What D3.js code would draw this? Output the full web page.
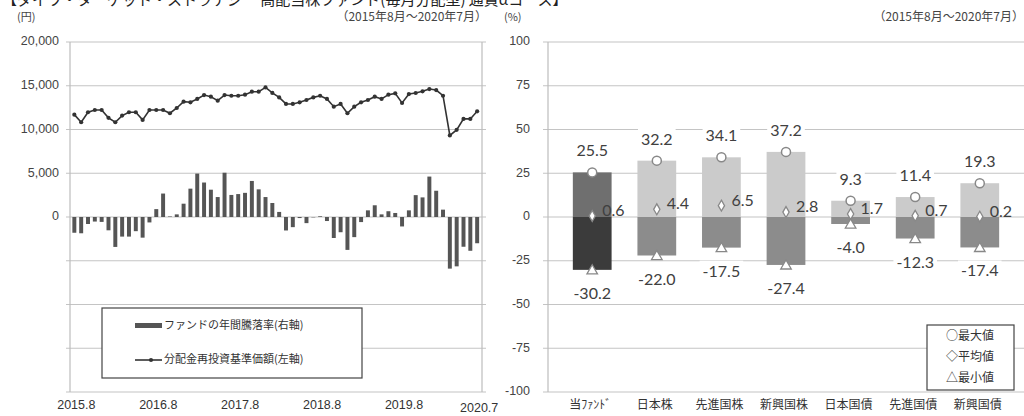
<!DOCTYPE html>
<html>
<head>
<meta charset="utf-8">
<script src="https://cdn.jsdelivr.net/npm/d3@7"></script>
<style>
  body { margin: 0; background: #fff; }
  svg { display: block; }
</style>
</head>
<body>
<div class="chart"></div>
<script>
// ---- data ----
const months = d3.range(60); // 2015.8 .. 2020.7
const navValues = [
  11700, 10830, 11970, 12230, 12230, 11330, 10830, 11590, 11970, 11970,
  11100, 12230, 12230, 12230, 11860, 12460, 13180, 13110, 13490, 13940,
  13750, 13300, 13940, 13860, 13860, 13980, 14320, 14320, 14810, 14180,
  13670, 12920, 12920, 13110, 13370, 13670, 13860, 13490, 12610, 12920,
  11860, 12610, 13110, 13370, 13750, 13490, 13980, 14130, 13030, 14050,
  14170, 14360, 14620, 14510, 13860, 9320, 9960, 11210, 11210, 12080
];
const annualReturns = [
  -9.0, -9.3, -4.0, -2.6, -2.8, -7.6, -17.1, -11.2, -11.2, -8.1,
  -11.8, -3.1, 4.5, 13.4, 0.3, 1.5, 7.6, 16.2, 24.8, 19.7,
  15.6, 11.4, 25.3, 12.6, 13.1, 13.8, 20.6, 15.8, 11.4, 8.0,
  2.9, -7.7, -5.8, -0.6, -3.5, -0.2, 0.4, -2.3, -12.0, -8.7,
  -18.8, -11.5, -2.9, 3.8, 6.7, 1.5, 3.3, 2.3, -5.4, 3.8,
  12.5, 11.2, 23.1, 15.0, 4.2, -29.5, -28.2, -17.0, -19.3, -15.0
];
const monthTicks = [0, 12, 24, 36, 48, 59];
const monthTickLabels = ["2015.8", "2016.8", "2017.8", "2018.8", "2019.8", "2020.7"];
const navTicks = [20000, 15000, 10000, 5000, 0];

const assetClasses = ["当ﾌｧﾝﾄﾞ", "日本株", "先進国株", "新興国株", "日本国債", "先進国債", "新興国債"];
const maxValues = [25.5, 32.2, 34.1, 37.2, 9.3, 11.4, 19.3];
const meanValues = [0.6, 4.4, 6.5, 2.8, 1.7, 0.7, 0.2];
const minValues = [-30.2, -22.0, -17.5, -27.4, -4.0, -12.3, -17.4];
const pctTicks = [100, 75, 50, 25, 0, -25, -50, -75, -100];

const jp = '"Noto Sans CJK JP", sans-serif';
const num = 'Lato, "Liberation Sans", sans-serif';

const svg = d3.select('.chart')
  .append('svg')
  .attr('width', 1024)
  .attr('height', 416);

// title, cut at the top edge like the source
svg.append('text')
  .attr('x', 2).attr('y', 5)
  .style('font', `15px ${jp}`).attr('fill', '#222')
  .text('【ダイワ・ターゲット・ストラテジー 高配当株ファンド(毎月分配型) 通貨αコース】');

// ---- shared vertical scales ----
const yNav = d3.scaleLinear().domain([-20000, 20000]).range([392, 42]);
const yPct = d3.scaleLinear().domain([-100, 100]).range([392, 42]);

// ================= left chart =================
const xMonth = d3.scaleBand().domain(months).range([69.5, 482]).padding(0.42);
const left = svg.append('g');

left.selectAll('.grid-l')
  .data(d3.range(-20000, 20001, 5000))
  .enter().append('line')
  .attr('x1', 66).attr('x2', 486)
  .attr('y1', d => yNav(d)).attr('y2', d => yNav(d))
  .attr('stroke', '#c4c4c4').attr('stroke-width', 1.2);

left.append('line').attr('x1', 70).attr('x2', 70).attr('y1', 42).attr('y2', 392)
  .attr('stroke', '#bdbdbd').attr('stroke-width', 1.2);
left.append('line').attr('x1', 482).attr('x2', 482).attr('y1', 42).attr('y2', 392)
  .attr('stroke', '#bdbdbd').attr('stroke-width', 1.2);

left.selectAll('.ytick')
  .data(navTicks)
  .enter().append('text')
  .attr('x', 59).attr('y', d => yNav(d))
  .attr('text-anchor', 'end').attr('dominant-baseline', 'middle')
  .style('font', '12.5px "Liberation Sans", sans-serif').attr('fill', '#444')
  .text(d => d3.format(',')(d));

left.selectAll('.xtick')
  .data(monthTicks)
  .enter().append('text')
  .attr('x', d => xMonth(d) + xMonth.bandwidth() / 2 + 2)
  .attr('y', (d, i) => i === monthTicks.length - 1 ? 409 : 406)
  .attr('text-anchor', 'middle').attr('dominant-baseline', 'middle')
  .style('font', '12.5px "Liberation Sans", sans-serif').attr('fill', '#333')
  .text((d, i) => monthTickLabels[i]);

// annual return bars (right axis, %)
left.selectAll('.bar')
  .data(months)
  .enter().append('rect')
  .attr('x', d => xMonth(d))
  .attr('width', xMonth.bandwidth())
  .attr('y', d => yPct(Math.max(0, annualReturns[d])))
  .attr('height', d => Math.abs(yPct(annualReturns[d]) - yPct(0)))
  .attr('fill', '#555');

// NAV line (left axis)
const line = d3.line()
  .x(d => xMonth(d) + xMonth.bandwidth() / 2)
  .y(d => yNav(navValues[d]));
left.append('path').datum(months)
  .attr('d', line).attr('fill', 'none')
  .attr('stroke', '#333').attr('stroke-width', 1.6);
left.selectAll('.pt')
  .data(months)
  .enter().append('circle')
  .attr('cx', d => xMonth(d) + xMonth.bandwidth() / 2)
  .attr('cy', d => yNav(navValues[d]))
  .attr('r', 2.1).attr('fill', '#333');

svg.append('text').attr('x', 17).attr('y', 18).attr('dominant-baseline', 'middle')
  .style('font', `11px ${jp}`).attr('fill', '#444').text('(円)');
svg.append('text').attr('x', 487).attr('y', 18).attr('text-anchor', 'end').attr('dominant-baseline', 'middle')
  .style('font', `12px ${jp}`).attr('fill', '#444').text('（2015年8月～2020年7月）');

// left legend
const lg = left.append('g');
lg.append('rect').attr('x', 102).attr('y', 308).attr('width', 260).attr('height', 70)
  .attr('fill', '#fff').attr('stroke', '#444').attr('stroke-width', 1.2);
lg.append('rect').attr('x', 135).attr('y', 323).attr('width', 27).attr('height', 5).attr('fill', '#555');
lg.append('text').attr('x', 164).attr('y', 326).attr('dominant-baseline', 'middle')
  .style('font', `11px ${jp}`).attr('fill', '#333').text('ファンドの年間騰落率(右軸)');
lg.append('line').attr('x1', 135).attr('x2', 162).attr('y1', 360).attr('y2', 360)
  .attr('stroke', '#333').attr('stroke-width', 1.6);
lg.append('circle').attr('cx', 151).attr('cy', 360).attr('r', 2.1).attr('fill', '#333');
lg.append('text').attr('x', 164).attr('y', 360).attr('dominant-baseline', 'middle')
  .style('font', `11px ${jp}`).attr('fill', '#333').text('分配金再投資基準価額(左軸)');

// ================= right chart =================
const xCat = d3.scaleBand().domain(assetClasses).range([547, 1025]).padding(0.4);
const right = svg.append('g');

right.selectAll('.grid-r')
  .data(pctTicks)
  .enter().append('line')
  .attr('x1', 543).attr('x2', 1024)
  .attr('y1', d => yPct(d)).attr('y2', d => yPct(d))
  .attr('stroke', '#c4c4c4').attr('stroke-width', 1.2);
right.append('line').attr('x1', 548).attr('x2', 548).attr('y1', 42).attr('y2', 392)
  .attr('stroke', '#bdbdbd').attr('stroke-width', 1.2);

right.selectAll('.ptick')
  .data(pctTicks)
  .enter().append('text')
  .attr('x', 530).attr('y', d => yPct(d))
  .attr('text-anchor', 'end').attr('dominant-baseline', 'middle')
  .style('font', '12.5px "Liberation Sans", sans-serif').attr('fill', '#444')
  .text(d => d);

svg.append('text').attr('x', 504).attr('y', 18).attr('dominant-baseline', 'middle')
  .style('font', `11px ${jp}`).attr('fill', '#444').text('(%)');
svg.append('text').attr('x', 1024).attr('y', 18).attr('text-anchor', 'end').attr('dominant-baseline', 'middle')
  .style('font', `12px ${jp}`).attr('fill', '#444').text('（2015年8月～2020年7月）');

right.selectAll('.cat')
  .data(assetClasses)
  .enter().append('text')
  .attr('x', d => xCat(d) + xCat.bandwidth() / 2 - 2)
  .attr('y', 406)
  .attr('text-anchor', 'middle').attr('dominant-baseline', 'middle')
  .style('font', `12px ${jp}`).attr('fill', '#333')
  .text(d => d);

const cx = (i) => xCat(assetClasses[i]) + xCat.bandwidth() / 2;

// upper (max) and lower (min) bars
right.selectAll('.up')
  .data(assetClasses)
  .enter().append('rect')
  .attr('x', d => xCat(d)).attr('width', xCat.bandwidth())
  .attr('y', (d, i) => yPct(maxValues[i]))
  .attr('height', (d, i) => yPct(0) - yPct(maxValues[i]))
  .attr('fill', (d, i) => i === 0 ? '#6f6f6f' : '#cbcbcb');
right.selectAll('.down')
  .data(assetClasses)
  .enter().append('rect')
  .attr('x', d => xCat(d)).attr('width', xCat.bandwidth())
  .attr('y', yPct(0))
  .attr('height', (d, i) => yPct(minValues[i]) - yPct(0))
  .attr('fill', (d, i) => i === 0 ? '#3b3b3b' : '#8c8c8c');

// markers
right.selectAll('.mx')
  .data(assetClasses)
  .enter().append('circle')
  .attr('cx', (d, i) => cx(i)).attr('cy', (d, i) => yPct(maxValues[i]))
  .attr('r', 4.5).attr('fill', '#fff').attr('stroke', '#888').attr('stroke-width', 1.5);
right.selectAll('.mn')
  .data(assetClasses)
  .enter().append('path')
  .attr('d', d3.symbol().type(d3.symbolDiamond).size(34))
  .attr('transform', (d, i) => `translate(${cx(i)},${yPct(meanValues[i])})`)
  .attr('fill', '#fff').attr('stroke', '#888').attr('stroke-width', 1.3);
right.selectAll('.mi')
  .data(assetClasses)
  .enter().append('path')
  .attr('d', d3.symbol().type(d3.symbolTriangle).size(48))
  .attr('transform', (d, i) => `translate(${cx(i)},${yPct(minValues[i]) + 1})`)
  .attr('fill', '#fff').attr('stroke', '#888').attr('stroke-width', 1.3);

// value labels; max/min ones get white boxes (they cut the grid lines)
function label(x, y, txt, anchor, boxed) {
  const g = right.append('g');
  const t = g.append('text')
    .attr('x', x).attr('y', y)
    .attr('text-anchor', anchor).attr('dominant-baseline', 'middle')
    .style('font', `16px ${num}`).attr('fill', '#404040')
    .text(txt);
  if (!boxed) return;
  const b = t.node().getBBox();
  g.insert('rect', 'text')
    .attr('x', b.x - 3).attr('y', b.y)
    .attr('width', b.width + 6).attr('height', b.height)
    .attr('fill', '#fff');
}
const f1 = v => v.toFixed(1);
assetClasses.forEach((d, i) => {
  label(cx(i), yPct(maxValues[i]) - 20, f1(maxValues[i]), 'middle', true);
  label(cx(i) + 10, yPct(meanValues[i]) - 4, f1(meanValues[i]), 'start', false);
  label(cx(i), yPct(minValues[i]) + 25, f1(minValues[i]), 'middle', true);
});

// right legend
const rg = right.append('g');
rg.append('rect').attr('x', 927).attr('y', 325).attr('width', 87).attr('height', 65)
  .attr('fill', '#fff').attr('stroke', '#444').attr('stroke-width', 1.2);
rg.selectAll('text')
  .data(['○最大値', '◇平均値', '△最小値'])
  .enter().append('text')
  .attr('x', 970).attr('y', (d, i) => 337 + i * 21)
  .attr('text-anchor', 'middle').attr('dominant-baseline', 'middle')
  .style('font', `12px ${jp}`).attr('fill', '#333')
  .text(d => d);
</script>
</body>
</html>
